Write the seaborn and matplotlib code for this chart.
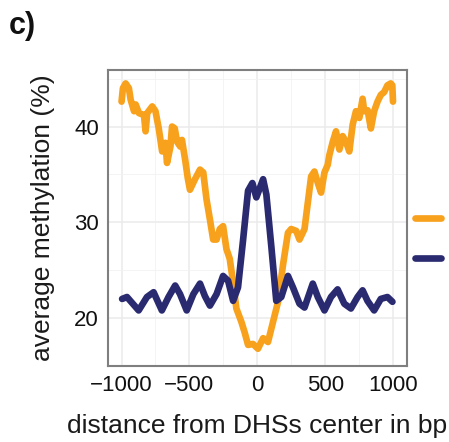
import matplotlib
matplotlib.use("Agg")
import matplotlib.pyplot as plt
import pandas as pd
import seaborn as sns

# Orange series
orange_x = [-1000, -990, -970, -946, -933, -908, -896, -872, -835, -823,
            -811, -774, -750, -726, -701, -677, -665, -640, -628, -608,
            -591, -567, -555, -530, -512, -496, -459, -422, -398, -374,
            -349, -325, -300, -276, -252, -227, -203, -178, -154, -117,
            -93, -68, -32, 5, 43, 79, 116, 153, 189, 226,
            250, 287, 311, 348, 372, 397, 421, 446, 470, 495,
            519, 531, 556, 580, 605, 629, 654, 678, 703, 727,
            752, 776, 788, 813, 837, 861, 886, 910, 935, 959,
            983, 995, 1000]
orange_y = [42.6, 44.0, 44.5, 44.0, 42.8, 41.6, 42.3, 41.4, 41.2, 39.5,
            41.4, 42.1, 41.6, 39.8, 37.4, 38.3, 36.2, 37.9, 40.0, 39.8,
            38.4, 37.9, 38.6, 36.4, 34.6, 33.4, 34.5, 35.5, 35.2, 32.4,
            30.3, 28.2, 28.2, 29.3, 29.6, 27.2, 26.2, 23.7, 21.0, 19.6,
            18.5, 17.2, 17.3, 16.8, 17.9, 17.5, 19.6, 21.7, 25.5, 28.9,
            29.3, 29.1, 28.2, 29.3, 32.0, 34.8, 35.3, 34.1, 33.1, 35.2,
            36.0, 37.0, 38.4, 39.5, 37.6, 39.0, 38.4, 37.4, 40.2, 41.6,
            40.9, 42.9, 41.6, 41.7, 39.8, 41.6, 42.6, 43.3, 43.6, 44.3,
            44.5, 44.3, 42.6]

# Blue series
blue_x = [-996, -960, -874, -813, -764, -703, -654, -605, -569, -520,
          -471, -422, -386, -349, -300, -252, -215, -178, -142, -105,
          -68, -36, -7, 43, 67, 104, 140, 177, 226, 263,
          311, 348, 409, 446, 495, 543, 592, 641, 690, 739,
          776, 812, 861, 910, 959, 996]
blue_y = [22.0, 22.2, 20.8, 22.2, 22.7, 20.8, 22.2, 23.4, 22.5, 20.8,
          22.5, 23.6, 22.3, 21.3, 22.5, 24.4, 23.9, 21.8, 23.2, 28.1,
          33.3, 34.1, 32.6, 34.5, 32.9, 27.4, 21.8, 22.2, 24.4, 23.2,
          21.5, 21.1, 23.6, 22.2, 20.8, 22.2, 23.0, 21.5, 21.0, 22.2,
          22.9, 21.8, 20.8, 22.0, 22.2, 21.7]

x_ticks = [-1000, -500, 0, 500, 1000]
x_labels = ["\u22121000", "\u2212500", "0", "500", "1000"]
y_ticks = [20, 30, 40]

df = pd.concat([
    pd.DataFrame({"pos": orange_x, "meth": orange_y, "set": "a"}),
    pd.DataFrame({"pos": blue_x, "meth": blue_y, "set": "b"}),
])

sns.set_theme(style="white")
plt.rcParams["font.family"] = ["Liberation Sans", "DejaVu Sans"]

fig = plt.figure(figsize=(4.49, 4.42), dpi=100)
ax = fig.add_axes([0.2405, 0.172, 0.665, 0.6696])

sns.lineplot(
    data=df, x="pos", y="meth", hue="set",
    palette={"a": "#F7A11C", "b": "#2A2A70"},
    estimator=None, linewidth=4.8, ax=ax,
)
for ln in ax.lines:
    ln.set_solid_joinstyle("round")

ax.set_xlim(-1100, 1100)
ax.set_ylim(15.15, 45.9)
ax.set_xticks(x_ticks)
ax.set_xticklabels(x_labels)
ax.set_yticks(y_ticks)
ax.set_xticks([-750, -250, 250, 750], minor=True)
ax.set_yticks([15, 25, 35, 45], minor=True)
ax.grid(True, which="major", color="#ebebeb", linewidth=1.1)
ax.grid(True, which="minor", color="#f2f2f2", linewidth=0.6)
ax.set_axisbelow(True)

for s in ax.spines.values():
    s.set_color("#7f7f7f")
    s.set_linewidth(1.5)

ax.tick_params(axis="both", which="major", length=4, width=1.1,
               color="#333333", labelsize=16, labelcolor="#111111", pad=2.5)
ax.tick_params(axis="both", which="minor", length=0)

ax.set_xlabel("distance from DHSs center in bp", fontsize=19,
              color="#1a1a1a", labelpad=13)
ax.set_ylabel("average methylation (%)", fontsize=19,
              color="#1a1a1a", labelpad=14)

handles, _ = ax.get_legend_handles_labels()
ax.legend(
    handles, [" ", " "], loc="upper left",
    bbox_to_anchor=(0.9243, 0.5249), bbox_transform=fig.transFigure,
    frameon=False, fontsize=10, handlelength=1.9, handleheight=2,
    labelspacing=1.38, borderpad=0, borderaxespad=0, handletextpad=0.2,
)

fig.text(0.02, 0.975, "c)", fontsize=22, fontweight="bold", va="top",
         ha="left", color="#111111")

fig.savefig("out.png", dpi=100)
